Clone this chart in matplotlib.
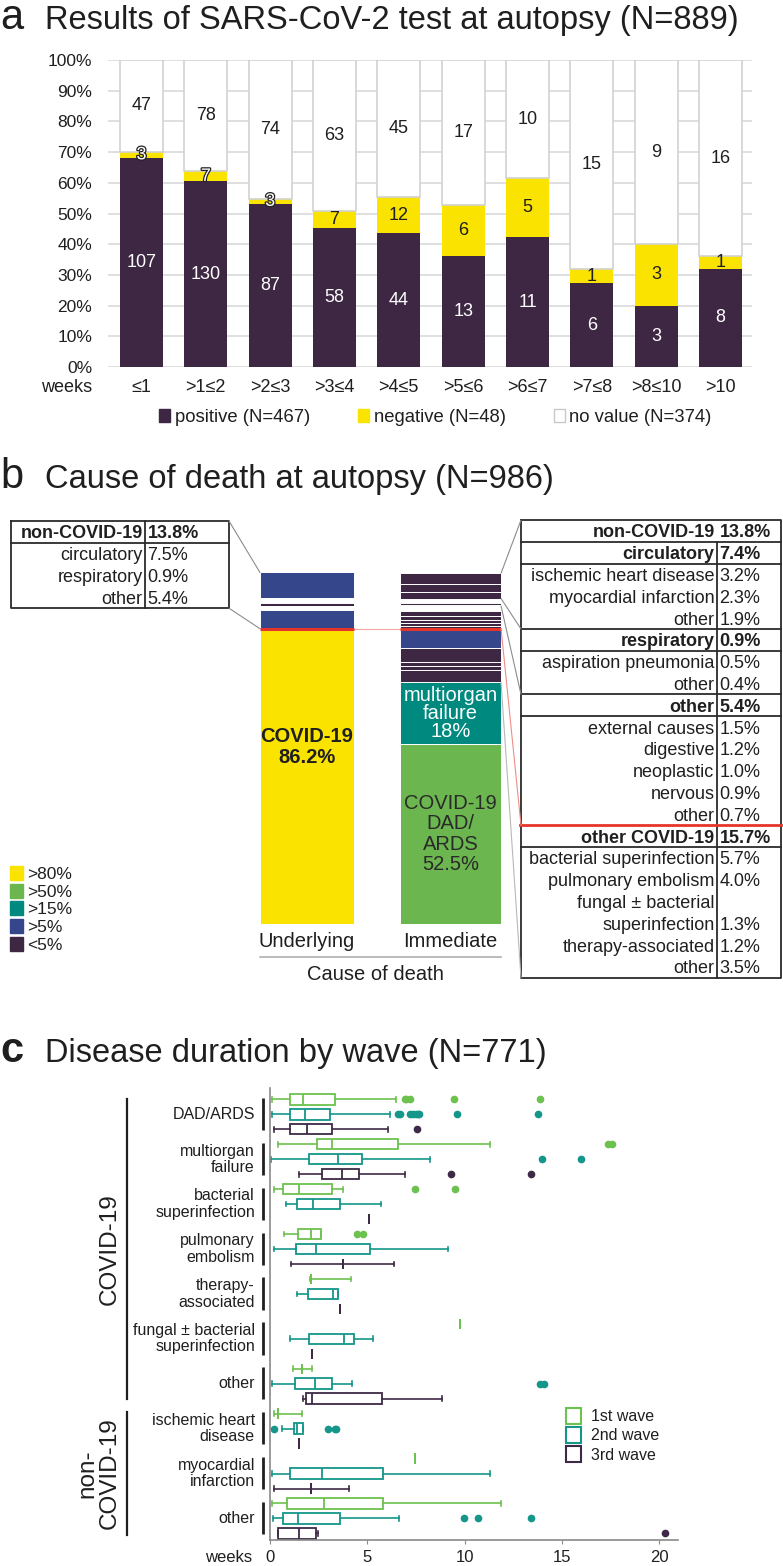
import numpy as np
import matplotlib.pyplot as plt
import matplotlib.patheffects as pe
import matplotlib.transforms as mtransforms
from matplotlib.patches import Patch, ConnectionPatch

plt.rcParams['font.family'] = ['Liberation Sans', 'DejaVu Sans']
plt.rcParams['text.color'] = '#1f1f1f'

# a: SARS-CoV-2 test at autopsy, by weeks of disease
week_bins = ['≤1', '>1≤2', '>2≤3', '>3≤4', '>4≤5', '>5≤6', '>6≤7', '>7≤8', '>8≤10', '>10']
n_positive = np.array([107, 130, 87, 58, 44, 13, 11, 6, 3, 8])
n_negative = np.array([3, 7, 3, 7, 12, 6, 5, 1, 3, 1])
n_novalue = np.array([47, 78, 74, 63, 45, 17, 10, 15, 9, 16])
legend_a = ['positive (N=467)', 'negative (N=48)', 'no value (N=374)']

# b: cause of death in % (N=986), stacks go bottom -> top
und_covid = [86.2]
und_other = [5.4]
und_resp = [0.9]
und_circ = [7.5]
imm_covid = [52.5, 18.0, 3.5, 1.2, 1.3, 4.0, 5.7]
imm_other = [0.7, 0.9, 1.0, 1.2, 1.5]
imm_resp = [0.4, 0.5]
imm_circ = [1.9, 2.3, 3.2]

left_labels = ['non-COVID-19', 'circulatory', 'respiratory', 'other']
left_values = ['13.8%', '7.5%', '0.9%', '5.4%']
right_labels = ['non-COVID-19', 'circulatory', 'ischemic heart disease', 'myocardial infarction',
                'other', 'respiratory', 'aspiration pneumonia', 'other', 'other',
                'external causes', 'digestive', 'neoplastic', 'nervous', 'other',
                'other COVID-19', 'bacterial superinfection', 'pulmonary embolism',
                'fungal ± bacterial', 'superinfection', 'therapy-associated', 'other']
right_values = ['13.8%', '7.4%', '3.2%', '2.3%', '1.9%', '0.9%', '0.5%', '0.4%', '5.4%',
                '1.5%', '1.2%', '1.0%', '0.9%', '0.7%', '15.7%', '5.7%', '4.0%', '',
                '1.3%', '1.2%', '3.5%']
shade_labels = ['>80%', '>50%', '>15%', '>5%', '<5%']

# c: disease duration (weeks) by wave -- (whislo, q1, median, q3, whishi)
causes_c = ['DAD/ARDS', 'multiorgan\nfailure', 'bacterial\nsuperinfection', 'pulmonary\nembolism',
            'therapy-\nassociated', 'fungal ± bacterial\nsuperinfection', 'other',
            'ischemic heart\ndisease', 'myocardial\ninfarction', 'other']
wave1 = [(0.08, 1.03, 1.72, 3.33, 6.49), (0.41, 2.41, 3.18, 6.56, 11.3),
         (0.23, 0.69, 1.49, 3.18, 3.77), (0.72, 1.44, 2.13, 2.64, 2.64),
         (2.05, 2.13, 2.13, 2.13, 4.18), (9.79, 9.79, 9.79, 9.79, 9.79),
         (1.18, 1.67, 1.67, 1.67, 2.18), (0.21, 0.41, 0.41, 0.41, 1.62),
         (7.46, 7.46, 7.46, 7.46, 7.46), (0.08, 0.87, 2.77, 5.79, 11.9)]
wave2 = [(0.08, 1.03, 1.82, 3.10, 6.15), (0.05, 2.00, 3.51, 4.74, 8.23),
         (0.82, 1.41, 2.23, 3.62, 5.69), (0.23, 1.36, 2.36, 5.15, 9.15),
         (1.41, 1.95, 3.23, 3.49, 3.49), (1.03, 2.00, 3.79, 4.33, 5.28),
         (0.08, 1.26, 2.31, 3.21, 4.21), (0.64, 1.21, 1.41, 1.72, 1.72),
         (0.08, 1.03, 2.69, 5.79, 11.33), (0.13, 0.69, 1.44, 3.62, 6.64)]
wave3 = [(0.21, 1.03, 1.92, 3.20, 6.05), (1.49, 2.69, 3.69, 4.56, 6.92),
         (5.08, 5.08, 5.08, 5.08, 5.08), (1.10, 3.74, 3.74, 3.74, 6.36),
         (3.59, 3.59, 3.59, 3.59, 3.59), (2.18, 2.18, 2.18, 2.18, 2.18),
         (1.72, 1.85, 2.18, 5.77, 8.82), (1.49, 1.49, 1.49, 1.49, 1.49),
         (0.21, 2.13, 2.13, 2.13, 4.05), (0.41, 0.41, 1.49, 2.36, 2.46)]
fliers1 = [[6.95, 6.97, 7.18, 9.44, 13.9], [17.4, 17.6], [7.44, 9.51], [4.46, 4.77],
           [], [], [], [], [], []]
fliers2 = [[6.59, 6.67, 7.18, 7.33, 7.51, 7.59, 7.64, 9.59, 13.8], [14.0, 16.0], [], [],
           [], [], [13.9, 14.1], [0.21, 3.0, 3.33, 3.38], [], [9.95, 10.7, 13.4]]
fliers3 = [[7.54], [9.33, 13.4], [], [], [], [], [], [], [], [20.3]]
wave_labels = ['1st wave', '2nd wave', '3rd wave']

YEL, GRN, TEAL, BLUE, DARK = '#FBE300', '#6BB64F', '#00897E', '#35478A', '#3D2743'
RED, LINE = '#E5352B', '#2b2b2b'
wave_colors = ['#6DC14E', '#14968A', '#3E2A47']

W, H = 783, 1566
fig = plt.figure(figsize=(W / 100, H / 100), dpi=100)


def box(l, t, r, b):
    return [l / W, 1 - b / H, (r - l) / W, (b - t) / H]


# overlay in pixel coords for titles, tables and connectors
ov = fig.add_axes([0, 0, 1, 1])
ov.set_xlim(0, W)
ov.set_ylim(H, 0)
ov.axis('off')
ov.patch.set_visible(False)

for letter, title, ybase, wt in [('a', 'Results of SARS-CoV-2 test at autopsy (N=889)', 29, 'normal'),
                                 ('b', 'Cause of death at autopsy (N=986)', 488, 'normal'),
                                 ('c', 'Disease duration by wave (N=771)', 1062, 'bold')]:
    ov.text(0, ybase, letter, fontsize=30, fontweight=wt, va='baseline')
    ov.text(45, ybase, title, fontsize=23.5, va='baseline')

# ---------------- panel a
ax_a = fig.add_axes(box(108, 60, 752, 367))
ax_a.patch.set_visible(False)
tot = n_positive + n_negative + n_novalue
p_pos = 100 * n_positive / tot
p_neg = 100 * n_negative / tot
p_nov = 100 * n_novalue / tot
xa = np.arange(len(week_bins))
ax_a.bar(xa, p_pos, width=0.67, color=DARK, zorder=2)
ax_a.bar(xa, p_neg, bottom=p_pos, width=0.67, color=YEL, zorder=2)
ax_a.bar(xa, p_nov, bottom=p_pos + p_neg, width=0.67, color='white', edgecolor='#d2d2d2',
         linewidth=1.2, zorder=2)
for i in range(len(xa)):
    ax_a.text(xa[i], p_pos[i] / 2, str(n_positive[i]), ha='center', va='center',
              color='white', fontsize=13, zorder=3)
    yn = p_pos[i] + p_neg[i] / 2
    if p_neg[i] < 4:
        ax_a.text(xa[i], yn, str(n_negative[i]), ha='center', va='center', color='white',
                  fontsize=13, zorder=3,
                  path_effects=[pe.withStroke(linewidth=1.8, foreground='#222222')])
    else:
        ax_a.text(xa[i], yn, str(n_negative[i]), ha='center', va='center', fontsize=13, zorder=3)
    ax_a.text(xa[i], p_pos[i] + p_neg[i] + p_nov[i] / 2, str(n_novalue[i]), ha='center',
              va='center', fontsize=13, zorder=3)
ax_a.set_xlim(-0.52, 9.49)
ax_a.set_ylim(0, 100)
ax_a.set_yticks(np.arange(0, 101, 10), [f'{v}%' for v in range(0, 101, 10)])
ax_a.set_xticks(xa, week_bins)
ax_a.tick_params(length=0, labelsize=12.5, colors='#1f1f1f')
ax_a.tick_params(axis='y', pad=11.5)
ax_a.tick_params(axis='x', pad=9, labelsize=13)
ax_a.grid(axis='y', color='#d9d9d9', lw=1.2, zorder=0)
for s in ax_a.spines.values():
    s.set_visible(False)
ov.text(92, 388, 'weeks', ha='right', va='center', fontsize=13)
ax_a.legend([Patch(color=DARK), Patch(color=YEL), Patch(facecolor='white', edgecolor='#c8c8c8')],
            legend_a, ncol=3, loc='center left', bbox_to_anchor=(0.079, -0.163), frameon=False,
            fontsize=13.3, handlelength=0.6, handleheight=0.7, handletextpad=0.25,
            columnspacing=2.6, borderpad=0, borderaxespad=0)


# ---------------- panel b
def shade(v):
    if v > 80:
        return YEL
    if v > 50:
        return GRN
    if v > 15:
        return TEAL
    if v > 5:
        return BLUE
    return DARK


GAP = 1.3
w_und, w_imm = 0.655, 0.704


def stack(ax, x, width, groups):
    y = 0.0
    tops = []
    for gi, vals in enumerate(groups):
        if gi > 1:
            y += GAP
        for v in vals:
            ax.bar(x, v, bottom=y, width=width, color=shade(v), edgecolor='white', linewidth=0.7)
            y += v
        tops.append(y)
    return tops


ax_b = fig.add_axes(box(250, 572.5, 515, 924))
ax_b.patch.set_visible(False)
top_u = stack(ax_b, 0, w_und, [und_covid, und_other, und_resp, und_circ])
top_i = stack(ax_b, 1, w_imm, [imm_covid, imm_other, imm_resp, imm_circ])
ax_b.set_xlim(-0.397, 1.449)
ax_b.set_ylim(0, max(top_u[-1], top_i[-1]))
ax_b.hlines(top_u[0], w_und / 2, 1 - w_imm / 2, color='#F4A6A0', lw=0.8)
ax_b.hlines(top_u[0], -w_und / 2, w_und / 2, color=RED, lw=2.2)
ax_b.hlines(top_i[0], 1 - w_imm / 2, 1 + w_imm / 2, color=RED, lw=2.2)
ax_b.set_xticks([0, 1], ['Underlying', 'Immediate'])
ax_b.set_yticks([])
ax_b.tick_params(length=0, labelsize=14.5, pad=6, colors='#1f1f1f')
for s in ax_b.spines.values():
    s.set_visible(False)
ax_b.text(0, 0.6 * und_covid[0], 'COVID-19\n86.2%', ha='center', va='center', fontsize=14.5,
          fontweight='bold', linespacing=1.1)
ax_b.text(1, imm_covid[0] + imm_covid[1] / 2, 'multiorgan\nfailure\n18%', ha='center', va='center',
          color='white', fontsize=14.5, linespacing=0.92)
ax_b.text(1, imm_covid[0] / 2, 'COVID-19\nDAD/\nARDS\n52.5%', ha='center', va='center',
          color='#2a2a2a', fontsize=14.5, linespacing=1.1)
ov.plot([260, 501], [957, 957], color='#a8a8a8', lw=1.1)
ov.text(375, 975, 'Cause of death', ha='center', va='center', fontsize=14.5)

fig.legend([Patch(color=c) for c in [YEL, GRN, TEAL, BLUE, DARK]], shade_labels,
           loc='upper left', bbox_to_anchor=(10 / W, 1 - 866 / H), frameon=False, fontsize=12.5,
           handlelength=0.75, handleheight=0.86, handletextpad=0.25, labelspacing=0.1,
           borderpad=0, borderaxespad=0)


def draw_table(x0, x1, xdiv, y0, pitch, labels, values, bold, rules, red_rule=None, div_from=0):
    y1 = y0 + pitch * len(labels)
    ov.plot([x0, x1, x1, x0, x0], [y0, y0, y1, y1, y0], color=LINE, lw=1.3)
    ov.plot([xdiv, xdiv], [y0 + pitch * div_from, y1], color=LINE, lw=1.3)
    for r in rules:
        yy = y0 + pitch * (r + 1)
        ov.plot([x0, x1], [yy, yy], color=LINE, lw=1.3)
    if red_rule is not None:
        yy = y0 + pitch * (red_rule + 1)
        ov.plot([x0 - 1, x1], [yy, yy], color=RED, lw=2)
    for i, (lab, val) in enumerate(zip(labels, values)):
        yc = y0 + pitch * (i + 0.5)
        fw = 'bold' if i in bold else 'normal'
        ov.text(xdiv - 2.5, yc, lab, ha='right', va='center_baseline', fontsize=13, fontweight=fw)
        ov.text(xdiv + 2.5, yc, val, ha='left', va='center_baseline', fontsize=13, fontweight=fw)


draw_table(11, 229, 145, 521, 21.8, left_labels, left_values, [0], [0])
RT0, RP = 520, 21.8
draw_table(521, 781, 717, RT0, RP, right_labels, right_values, [0, 1, 5, 8, 14],
           [0, 1, 4, 5, 7, 8, 14], red_rule=13, div_from=1)


def connect(xy_bar, xy_px, color='#8c8c8c', lw=0.8):
    con = ConnectionPatch(xyA=xy_bar, coordsA=ax_b.transData, xyB=xy_px, coordsB=ov.transData,
                          color=color, lw=lw)
    fig.add_artist(con)


connect((-w_und / 2, top_u[-1]), (229, 521))
connect((-w_und / 2, top_u[0]), (229, 521 + 21.8 * 4))
xr = 1 + w_imm / 2
connect((xr, top_i[-1]), (521, RT0))
connect((xr, top_i[2] + GAP), (521, RT0 + RP * 5))
connect((xr, top_i[1] + GAP), (521, RT0 + RP * 8))
connect((xr, top_i[0]), (521, RT0 + RP * 14), color='#F08C86')
connect((xr, imm_covid[0] + imm_covid[1]), (521, RT0 + RP * 21), color='#b8b8b8')

# ---------------- panel c
ax_c = fig.add_axes(box(270, 1088, 677.5, 1540))
ax_c.patch.set_visible(False)
rows = np.arange(len(causes_c))
for w, (stats, fliers, col) in enumerate(zip([wave1, wave2, wave3], [fliers1, fliers2, fliers3],
                                             wave_colors)):
    bst = [dict(whislo=s[0], q1=s[1], med=s[2], q3=s[3], whishi=s[4], fliers=np.array(f))
           for s, f in zip(stats, fliers)]
    ax_c.bxp(bst, positions=3 * rows + w, widths=0.7, capwidths=0.32, orientation='horizontal',
             patch_artist=True, manage_ticks=False,
             boxprops=dict(facecolor='white', edgecolor=col, linewidth=1.3),
             medianprops=dict(color=col, linewidth=1.3),
             whiskerprops=dict(color=col, linewidth=1.2),
             capprops=dict(color=col, linewidth=1.2),
             flierprops=dict(marker='o', markerfacecolor=col, markeredgecolor=col, markersize=4.5))
ax_c.set_xlim(0, 20.95)
ax_c.set_ylim(29.44, -0.755)
ax_c.set_yticks([])
ax_c.set_xticks([0, 5, 10, 15, 20])
ax_c.tick_params(axis='x', length=3, color='#8a8a8a', labelsize=12, pad=4, labelcolor='#1f1f1f')
for side in ['top', 'right']:
    ax_c.spines[side].set_visible(False)
for side in ['left', 'bottom']:
    ax_c.spines[side].set_color('#8a8a8a')
    ax_c.spines[side].set_linewidth(1.2)
ov.text(252, 1557, 'weeks', ha='right', va='center', fontsize=12)

bl = mtransforms.blended_transform_factory(ax_c.transAxes, ax_c.transData)
for k, lab in enumerate(causes_c):
    ax_c.text(-0.037, 3 * k + 1, lab, transform=bl, ha='right', va='center', fontsize=11.5,
              linespacing=1.1, clip_on=False)
    ax_c.plot([-0.016, -0.016], [3 * k - 0.1, 3 * k + 2.05], transform=bl, color='#1f1f1f',
              lw=2, clip_on=False, solid_capstyle='butt')
ax_c.plot([-0.35, -0.35], [-0.05, 20.0], transform=bl, color='#1f1f1f', lw=1.6, clip_on=False)
ax_c.plot([-0.35, -0.35], [20.9, 29.1], transform=bl, color='#1f1f1f', lw=1.6, clip_on=False)
ax_c.text(-0.393, 10, 'COVID-19', transform=bl, rotation=90, ha='center', va='center',
          fontsize=17.5, clip_on=False)
ax_c.text(-0.42, 25, 'non-\nCOVID-19', transform=bl, rotation=90, ha='center', va='center',
          fontsize=17.5, linespacing=1.0, multialignment='center', clip_on=False)
ax_c.legend([Patch(facecolor='white', edgecolor=c, lw=1.5) for c in wave_colors], wave_labels,
            loc='upper left', bbox_to_anchor=(0.726, 0.292), frameon=False, fontsize=11.5,
            handlelength=0.94, handleheight=1.12, handletextpad=0.62, labelspacing=0.19,
            borderpad=0, borderaxespad=0)

fig.savefig('out.png', dpi=100)
